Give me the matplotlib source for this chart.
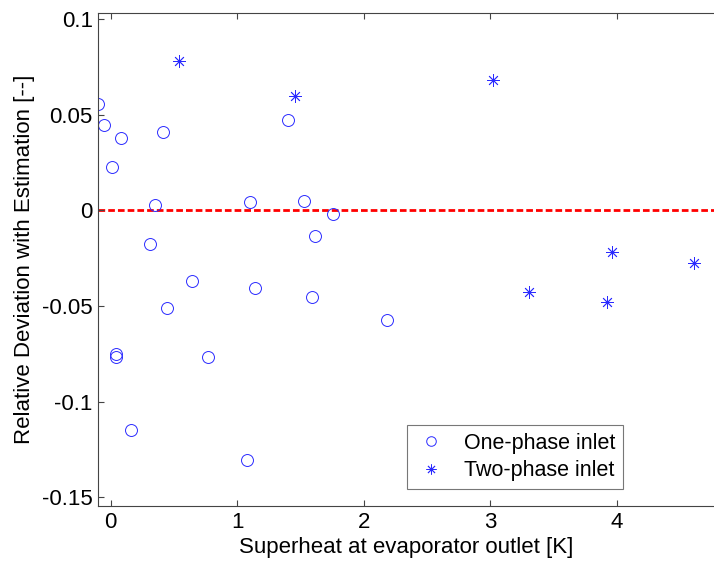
import numpy as np
import matplotlib
matplotlib.use("Agg")
import matplotlib.pyplot as plt
from matplotlib.ticker import FuncFormatter

plt.rcParams['font.family'] = ['Liberation Sans', 'DejaVu Sans']
plt.rcParams['font.size'] = 16
plt.rcParams['axes.unicode_minus'] = False

# one-phase inlet (circles)
one_x = [-0.098, -0.05, 0.079, 0.013, 0.41, 0.347, 0.313, 1.10, 0.645, 0.442,
         0.042, 0.045, 0.771, 0.16, 1.08, 1.14, 1.398, 1.527, 1.756, 1.614,
         1.592, 2.183]
one_y = [0.0557, 0.0446, 0.0379, 0.0228, 0.041, 0.0026, -0.0174, 0.0042, -0.0371, -0.0509,
         -0.0749, -0.0767, -0.0765, -0.1146, -0.1305, -0.0404, 0.047, 0.0049, -0.0021, -0.0134,
         -0.0451, -0.0571]

# two-phase inlet (asterisks)
two_x = [0.54, 1.46, 3.022, 3.307, 3.962, 4.615, 3.923]
two_y = [0.0778, 0.0597, 0.0682, -0.0427, -0.0216, -0.0274, -0.0478]

xticks = [0, 1, 2, 3, 4]
yticks = [-0.15, -0.1, -0.05, 0, 0.05, 0.1]

fig = plt.figure(figsize=(7.14, 5.63), dpi=100)
ax = fig.add_axes([0.1377, 0.1012, 0.8623, 0.8757])

ax.axhline(0, color='red', lw=2, dashes=(2.4, 1.1), zorder=1)
ax.plot(one_x, one_y, 'o', mfc='none', mec='#2a2aff', mew=0.7, ms=8.6, ls='none',
        label='One-phase inlet')
ax.plot(two_x, two_y, marker=(8, 2, 0), color='#2a2aff', mew=0.6, ms=9, ls='none',
        label='Two-phase inlet')

ax.set_xlim(-0.098, 4.77)
ax.set_ylim(-0.1545, 0.1031)
ax.set_xticks(xticks)
ax.set_yticks(yticks)
ax.yaxis.set_major_formatter(FuncFormatter(lambda v, p: '%g' % v))
ax.tick_params(direction='in', length=4, top=True, right=False, colors='#444444',
               labelcolor='black', width=0.8, pad=4)
for s in ['left', 'bottom', 'top']:
    ax.spines[s].set_color('#444444')
    ax.spines[s].set_linewidth(0.8)
ax.spines['right'].set_visible(False)

ax.set_xlabel('Superheat at evaporator outlet [K]', labelpad=3)
ax.set_ylabel('Relative Deviation with Estimation [--]', labelpad=5)

leg = ax.legend(loc='lower right', bbox_to_anchor=(0.852, 0.0345), borderaxespad=0,
                fancybox=False, framealpha=1, edgecolor='#777777', handlelength=1.5,
                handletextpad=0.8, borderpad=0.35, labelspacing=0.3, fontsize=15.5,
                markerscale=0.8)
leg.get_frame().set_linewidth(0.8)

fig.savefig('out.png', dpi=100)
